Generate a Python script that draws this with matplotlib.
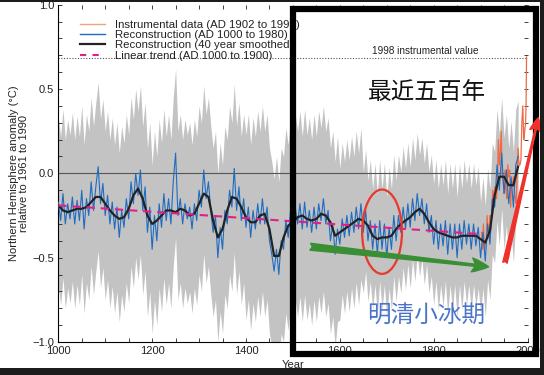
import numpy as np
import matplotlib
matplotlib.use("Agg")
import matplotlib.pyplot as plt
from matplotlib.patches import Rectangle, Ellipse
from matplotlib.lines import Line2D

plt.rcParams['font.family'] = ['Liberation Sans', 'DejaVu Sans']

# ---------------- data ----------------
recon_years = list(range(1000, 1981, 5))
recon_vals = [
    -0.17, -0.28, -0.12, -0.30, -0.18, -0.27, -0.14, -0.30, -0.16, -0.28,   # 1000-1045
    -0.10, -0.33, -0.15, -0.25, -0.05, -0.22, -0.08, 0.04, -0.18, -0.06,    # 1050-1095
    -0.25, -0.13, -0.30, -0.17, -0.33, -0.20, -0.38, -0.22, -0.32, -0.15,   # 1100-1145
    -0.27, -0.05, -0.18, 0.00, -0.13, 0.02, -0.22, -0.08, -0.35, -0.20,     # 1150-1195
    -0.45, -0.25, -0.40, -0.18, -0.32, -0.12, -0.28, -0.15, -0.30, -0.05,   # 1200-1245
    0.12, -0.25, -0.15, -0.30, -0.18, -0.27, -0.20, -0.33, -0.18, -0.28,    # 1250-1295
    -0.10, -0.20, 0.02, -0.15, -0.05, -0.22, -0.35, -0.25, -0.50, -0.32,    # 1300-1345
    -0.45, -0.22, -0.30, -0.10, -0.20, 0.03, -0.22, -0.08, -0.28, -0.15,    # 1350-1395
    -0.32, -0.20, -0.38, -0.22, -0.33, -0.18, -0.30, -0.15, -0.30, -0.20,   # 1400-1445
    -0.40, -0.48, -0.58, -0.45, -0.60, -0.40, -0.45, -0.28, -0.38, -0.22,   # 1450-1495
    -0.35, -0.20, -0.30, -0.18, -0.33, -0.17, -0.32, -0.22, -0.35, -0.20,   # 1500-1545
    -0.33, -0.18, -0.28, -0.15, -0.30, -0.22, -0.40, -0.30, -0.48, -0.33,   # 1550-1595
    -0.42, -0.27, -0.38, -0.25, -0.37, -0.23, -0.35, -0.20, -0.33, -0.18,   # 1600-1645
    -0.35, -0.22, -0.40, -0.28, -0.45, -0.30, -0.48, -0.28, -0.45, -0.30,   # 1650-1695
    -0.50, -0.32, -0.45, -0.25, -0.40, -0.25, -0.35, -0.20, -0.33, -0.18,   # 1700-1745
    -0.32, -0.15, -0.28, -0.12, -0.25, -0.15, -0.30, -0.18, -0.35, -0.25,   # 1750-1795
    -0.42, -0.28, -0.45, -0.30, -0.43, -0.28, -0.48, -0.30, -0.45, -0.30,   # 1800-1845
    -0.50, -0.30, -0.45, -0.28, -0.42, -0.30, -0.45, -0.30, -0.43, -0.32,   # 1850-1895
    -0.50, -0.35, -0.52, -0.30, -0.42, -0.15, -0.20, 0.05, -0.10, 0.12,     # 1900-1945
    -0.12, 0.02, -0.18, -0.02, -0.20, 0.05, 0.10,                           # 1950-1980
]

smooth_years = list(range(1000, 1981, 10))
smooth_vals = [
    -0.19, -0.22, -0.23, -0.22, -0.21, -0.21, -0.20, -0.17, -0.14, -0.14,
    -0.18, -0.22, -0.25, -0.27, -0.26, -0.21, -0.13, -0.09, -0.15, -0.25,
    -0.30, -0.28, -0.25, -0.22, -0.22, -0.23, -0.21, -0.22, -0.25, -0.24,
    -0.18, -0.12, -0.14, -0.28, -0.38, -0.33, -0.22, -0.14, -0.15, -0.20,
    -0.26, -0.29, -0.29, -0.25, -0.24, -0.33, -0.49, -0.49, -0.38, -0.31,
    -0.29, -0.26, -0.25, -0.27, -0.28, -0.27, -0.24, -0.25, -0.29, -0.37,
    -0.35, -0.33, -0.31, -0.29, -0.27, -0.28, -0.31, -0.37, -0.39, -0.38,
    -0.38, -0.37, -0.33, -0.30, -0.28, -0.26, -0.23, -0.21, -0.24, -0.29,
    -0.33, -0.35, -0.36, -0.37, -0.38, -0.38, -0.37, -0.37, -0.37, -0.37,
    -0.39, -0.41, -0.34, -0.13, -0.02, -0.02, -0.07, -0.07, 0.04,
]

# half-width of the grey uncertainty band, per period
err_start = [1000, 1400, 1600, 1650, 1900]
err_half = [0.50, 0.55, 0.45, 0.36, 0.33]

instr_years = [1902, 1904, 1906, 1908, 1910, 1912, 1914, 1916, 1918, 1920,
               1922, 1924, 1926, 1928, 1930, 1932, 1934, 1936, 1938, 1940,
               1942, 1944, 1946, 1948, 1950, 1952, 1954, 1956, 1958, 1960,
               1962, 1964, 1966, 1968, 1970, 1972, 1974, 1976, 1978, 1980,
               1982, 1984, 1986, 1988, 1990, 1992, 1994, 1996, 1997, 1998]
instr_vals = [-0.35, -0.45, -0.30, -0.45, -0.42, -0.40, -0.25, -0.35, -0.38, -0.25,
              -0.28, -0.22, -0.10, -0.18, -0.08, -0.10, -0.15, -0.05, 0.20, 0.05,
              0.12, 0.25, -0.02, -0.05, -0.12, 0.02, -0.10, -0.15, 0.05, -0.02,
              0.02, -0.20, -0.05, -0.08, -0.02, -0.10, -0.15, -0.18, 0.02, 0.15,
              0.05, 0.05, 0.08, 0.30, 0.40, 0.20, 0.25, 0.30, 0.42, 0.69]

trend_years = [1000, 1900]
trend_vals = [-0.19, -0.36]

value_1998 = 0.685

x_ticks = [1000, 1200, 1400, 1600, 1800, 2000]
y_ticks = [-1.0, -0.5, 0.0, 0.5, 1.0]

# ---------------- figure ----------------
fig = plt.figure(figsize=(5.44, 3.75), dpi=100)
ax = fig.add_axes([58.3 / 544, 1 - 342 / 375, (527.5 - 58.3) / 544, (342 - 4.7) / 375])

ry = np.array(recon_years)
rv = np.array(recon_vals)
idx = np.searchsorted(err_start, ry, side='right') - 1
half = np.array(err_half)[idx]
ax.fill_between(ry, rv - half, rv + half, color='#c3c3c3', lw=0, zorder=1)

ax.axhline(0.0, color='#555555', lw=0.8, zorder=2)
ax.axhline(value_1998, color='#555555', lw=0.8, ls=(0, (1, 1.5)), zorder=2)

ax.plot(instr_years, instr_vals, color='#ee6a45', lw=0.9, zorder=3)
ax.plot(ry, rv, color='#1f6cc0', lw=0.8, zorder=4)
ax.plot(smooth_years, smooth_vals, color='#222222', lw=1.6, zorder=5)
ax.plot(trend_years, trend_vals, color='#e0208a', lw=1.5, dashes=(4, 2.8), zorder=6)

ax.set_xlim(1000, 2000)
ax.set_ylim(-1.0, 1.0)
ax.set_xticks(x_ticks)
ax.set_xticks(np.arange(1000, 2001, 50), minor=True)
ax.set_yticks(y_ticks)
ax.set_yticks(np.arange(-1.0, 1.001, 0.1), minor=True)
ax.set_yticklabels(['\u22121.0', '\u22120.5', '0.0', '0.5', '1.0'])
ax.tick_params(which='both', direction='in', length=3.2, width=0.6,
               top=True, right=True, labelsize=8, colors='#222222', pad=3)
for s in ['top', 'right']:
    ax.spines[s].set_visible(False)
for s in ['left', 'bottom']:
    ax.spines[s].set_linewidth(0.8)

ax.set_xlabel('Year', fontsize=8, labelpad=3, color='#222222')
ax.set_ylabel('Northern Hemisphere anomaly (\u00b0C)\nrelative to 1961 to 1990',
              fontsize=8, labelpad=2, color='#222222', linespacing=1.1)

handles = [
    Line2D([], [], color='#eea57f', lw=1.0),
    Line2D([], [], color='#1f6cc0', lw=1.0),
    Line2D([], [], color='#222222', lw=1.6),
    Line2D([], [], color='#e0208a', lw=1.5, dashes=(3, 3)),
]
labels = ['Instrumental data (AD 1902 to 1998)',
          'Reconstruction (AD 1000 to 1980)',
          'Reconstruction (40 year smoothed)',
          'Linear trend (AD 1000 to 1900)']
leg = ax.legend(handles, labels, loc='upper left', frameon=False,
                bbox_to_anchor=(80 / 544, 1 - 20 / 375), bbox_transform=fig.transFigure,
                borderpad=0, borderaxespad=0, handlelength=2.2, handletextpad=0.85,
                labelspacing=0.02, prop={'family': 'Liberation Sans', 'size': 8.2})
for t in leg.get_texts():
    t.set_color('#222222')

ax.text(1782, value_1998 + 0.008, '1998 instrumental value', fontsize=7.2,
        ha='center', va='bottom', color='#222222', zorder=7)

cjk = ['Noto Sans CJK SC', 'DejaVu Sans']
ax.text(1785, 0.48, '最近五百年', family=cjk, fontsize=17, fontweight='light',
        ha='center', va='center', color='#111111', zorder=7)
ax.text(1785, -0.85, '明清小冰期', family=cjk, fontsize=17, fontweight='light',
        ha='center', va='center', color='#4a74c9', zorder=7)

ax.add_patch(Ellipse((1690, -0.346), 85, 0.50, fill=False, edgecolor='#e8392d',
                     lw=1.6, zorder=7))

ax.annotate('', xy=(1917, -0.554), xytext=(1537, -0.435),
            arrowprops=dict(arrowstyle='fancy,head_length=0.6,head_width=0.5,tail_width=0.25',
                            color='#3a8f35', shrinkA=0, shrinkB=0, mutation_scale=20),
            zorder=7)

box = Rectangle((292.5 / 544, 1 - 354 / 375), (535.5 - 292.5) / 544, (354 - 8.5) / 375,
                transform=fig.transFigure, fill=False, edgecolor='black', lw=4.5,
                clip_on=False, zorder=8)
ax.add_patch(box)

ax.annotate('', xy=(2023, 0.33), xytext=(1952, -0.53), annotation_clip=False,
            arrowprops=dict(arrowstyle='fancy,head_length=0.6,head_width=0.5,tail_width=0.2',
                            color='#f0302a', shrinkA=0, shrinkB=0, mutation_scale=16),
            zorder=9)

# dark outer border of the picture
for (x0, y0, w, h) in [(0, 0, 1, 7 / 375), (540 / 544, 0, 4 / 544, 1), (0, 1 - 2 / 375, 1, 2 / 375)]:
    fig.add_artist(Rectangle((x0, y0), w, h, transform=fig.transFigure,
                             color='#1c1c1c', lw=0, zorder=20))

fig.savefig('out.png', dpi=100)
